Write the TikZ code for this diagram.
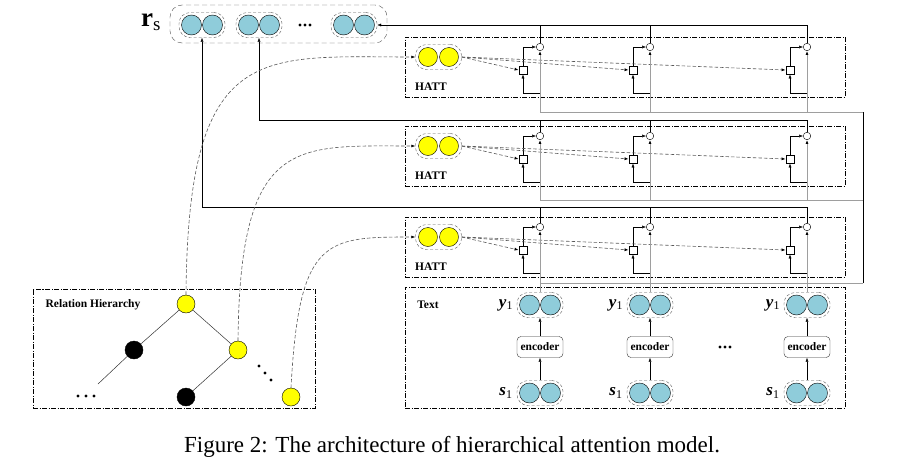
\documentclass[tikz,border=0pt]{standalone}
\usepackage{fontspec}
\setmainfont{Liberation Serif}
\usepackage{bm}
\usetikzlibrary{arrows.meta, positioning, calc}
\definecolor{beadBlue}{RGB}{143,204,218}
\definecolor{beadYellow}{RGB}{255,255,0}
\definecolor{busGray}{gray}{0.62}
\definecolor{linkGray}{gray}{0.35}

% two beads inside a dashed capsule
\newcommand{\beadpair}[3]{%
  \node[pairbox] (#1) at (#2) {};
  \node[#3] (#1a) at ($(#1)+(-10.5,0)$) {};
  \node[#3] (#1b) at ($(#1)+(10.5,0)$) {};
}
% three dots from a point, stepping by a vector
\newcommand{\threedots}[3]{%
  \foreach \i in {0,1,2} {
    \fill ($(#1)+\i*(#2,#3)$) circle (1.6pt);
  }
}

\begin{document}
\begin{tikzpicture}[x=1pt, y=-1pt,
    bead/.style={circle, draw, fill=beadBlue, minimum size=20pt, inner sep=0pt},
    ybead/.style={bead, fill=beadYellow, minimum size=19pt},
    knot/.style={circle, draw, fill=black, minimum size=18pt, inner sep=0pt},
    pairbox/.style={draw=gray!70!black, dash pattern=on 3pt off 2pt, rounded corners=11pt, minimum width=46pt, minimum height=25pt, inner sep=0pt},
    panel/.style={draw, dash pattern=on 5pt off 1.5pt on 1pt off 1.5pt, inner sep=0pt},
    gate/.style={draw, fill=white, minimum size=8.5pt, inner sep=0pt},
    sumnode/.style={circle, draw, fill=white, minimum size=7.5pt, inner sep=0pt},
    encbox/.style={draw=black!80, fill=white, rounded corners=4pt, minimum width=46pt, minimum height=21pt, inner sep=1pt, font=\fontsize{11.5}{12}\selectfont\bfseries},
    tag/.style={font=\fontsize{11.5}{12}\selectfont\bfseries},
    arr/.style={-{Latex[length=4pt, width=3pt]}},
    garr/.style={-{Latex[length=4pt, width=3pt, color=black]}},
    link/.style={linkGray, line width=0.6pt, dash pattern=on 3.5pt off 2pt},
    bus/.style={busGray, line width=0.8pt}]
  \useasboundingbox (0,0) rectangle (907,463);

  % output r_s
  \node[draw=gray!60!black, dash pattern=on 5pt off 3pt, rounded corners=12pt, minimum width=217pt, minimum height=38pt, inner sep=0pt] (rs) at (278.5,24) {};
  \node[font=\fontsize{27}{27}\selectfont] (rslab) at (151,22) {\textbf{r}\textsubscript{s}};
  \beadpair{rs1}{202,25}{bead}
  \beadpair{rs2}{259,25}{bead}
  \beadpair{rs3}{354,25}{bead}
  \coordinate (rsdots) at (300,25);
  \threedots{rsdots}{5}{0}

  % three HATT layers
  \foreach \k/\dy in {top/0, mid/89, bot/180} {
    \node[panel, minimum width=440pt, minimum height=60pt] (\k) at (625,{67+\dy}) {};
    \beadpair{\k-p}{438.5,{57+\dy}}{ybead}
    \node[tag] (\k-lab) at (431,{87+\dy}) {HATT};
    \foreach \c/\x in {1/540, 2/650, 3/807} {
      \node[gate] (\k-sq\c) at ({\x-17},{70+\dy}) {};
      \node[sumnode] (\k-o\c) at (\x,{47+\dy}) {};
      \draw[link, garr] (\k-p.east) -- (\k-sq\c.west);
      \draw[arr] (\x,{93+\dy}) -| (\k-sq\c.south);
      \draw[arr] (\k-sq\c.north) |- (\k-o\c.west);
    }
  }

  % outputs to r_s
  \coordinate (midbus) at (259,120);
  \coordinate (botbus) at (202,207);
  \draw[arr] (top-o3.north) |- (rs3.east);
  \draw (top-o1.north) -- (top-o1.north |- rs3.east);
  \draw (top-o2.north) -- (top-o2.north |- rs3.east);
  \draw[arr] (mid-o3.north) |- (midbus) -- (rs2.south);
  \draw (mid-o1.north) -- (mid-o1.north |- midbus);
  \draw (mid-o2.north) -- (mid-o2.north |- midbus);
  \draw[arr] (bot-o3.north) |- (botbus) -- (rs1.south);
  \draw (bot-o1.north) -- (bot-o1.north |- botbus);
  \draw (bot-o2.north) -- (bot-o2.north |- botbus);

  % sentence bus
  \coordinate (busbot) at (540,283);
  \coordinate (busR) at (863,283);
  \coordinate (busmid) at (540,200);
  \coordinate (bustop) at (540,112);
  \draw[bus] (busbot) -- (busR);
  \draw (busR) -- (busR |- bustop);
  \draw[bus] (busR |- busmid) -- (busmid);
  \draw[bus] (busR |- bustop) -- (bustop);
  \foreach \c in {1,2,3} {
    \draw[bus, garr] (bustop -| top-o\c) -- (top-o\c.south);
    \draw[bus, garr] (busmid -| mid-o\c) -- (mid-o\c.south);
  }

  % text encoder
  \node[panel, minimum width=440pt, minimum height=121pt] (text) at (625,347.5) {};
  \node[tag] (textlab) at (428,305) {Text};
  \foreach \c/\x in {1/540, 2/650, 3/807} {
    \beadpair{y\c}{\x,305}{bead}
    \beadpair{s\c}{\x,393}{bead}
    \node[encbox] (enc\c) at (\x,347) {encoder};
    \node[font=\fontsize{17}{17}\selectfont] (ylab\c) at ({\x-34},305) {\textbf{\textit{y}}\textsubscript{1}};
    \node[font=\fontsize{17}{17}\selectfont] (slab\c) at ({\x-34},393) {\textbf{\textit{s}}\textsubscript{1}};
    \draw[arr] (s\c.north) -- (enc\c.south);
    \draw[arr] (enc\c.north) -- (y\c.south);
    \draw[bus, garr] (y\c.north) -- (bot-o\c.south);
  }
  \coordinate (textdots) at (720,347);
  \threedots{textdots}{5}{0}

  % relation hierarchy
  \node[panel, minimum width=282pt, minimum height=119pt] (rel) at (174,348.5) {};
  \node[tag] (rellab) at (93,305) {Relation Hierarchy};
  \node[ybead, minimum size=18pt] (r0) at (186,304) {};
  \node[knot] (rA) at (134,350) {};
  \node[ybead, minimum size=18pt] (rB) at (238,350) {};
  \node[knot] (rC) at (186,397) {};
  \node[ybead, minimum size=18pt] (rD) at (291,397) {};
  \coordinate (rAend) at (98,384);
  \draw[black!80, line width=0.5pt] (r0) -- (rA);
  \draw[black!80, line width=0.5pt] (r0) -- (rB);
  \draw[black!80, line width=0.5pt] (rB) -- (rC);
  \draw[black!80, line width=0.5pt] (rA) -- (rAend);
  \coordinate (reldotsA) at (78,396);
  \threedots{reldotsA}{8}{0}
  \coordinate (reldotsB) at (259,366);
  \threedots{reldotsB}{6}{7}

  % relation queries into each layer
  \draw[link, garr] (r0.north) .. controls +(2,-255) and +(-155,0) .. (top-p.west);
  \draw[link, garr] (rB.north) .. controls +(2,-205) and +(-120,0) .. (mid-p.west);
  \draw[link, garr] (rD.north) .. controls +(8,-150) and +(-90,0) .. (bot-p.west);

  \node[font=\fontsize{23}{24}\selectfont] (caption) at (452,447) {Figure 2: The architecture of hierarchical attention model.};
\end{tikzpicture}
\end{document}
